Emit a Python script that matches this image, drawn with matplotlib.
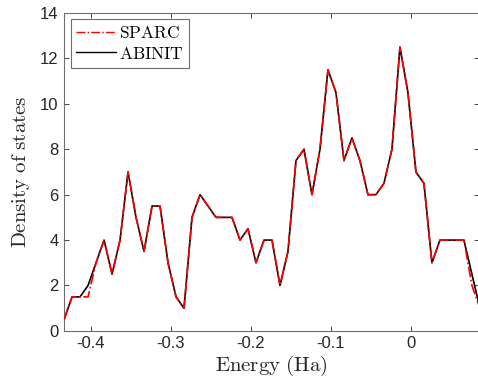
import matplotlib
matplotlib.use("Agg")
import matplotlib.pyplot as plt

# energy grid (Ha) and density of states
energy = [-0.4335, -0.4235, -0.4135, -0.4035, -0.3935, -0.3835, -0.3735, -0.3635,
          -0.3535, -0.3435, -0.3335, -0.3235, -0.3135, -0.3035, -0.2935, -0.2835,
          -0.2735, -0.2635, -0.2535, -0.2435, -0.2335, -0.2235, -0.2135, -0.2035,
          -0.1935, -0.1835, -0.1735, -0.1635, -0.1535, -0.1435, -0.1335, -0.1235,
          -0.1135, -0.1035, -0.0935, -0.0835, -0.0735, -0.0635, -0.0535, -0.0435,
          -0.0335, -0.0235, -0.0135, -0.0035, 0.0065, 0.0165, 0.0265, 0.0365,
          0.0465, 0.0565, 0.0665, 0.0765, 0.0865]

dos_abinit = [0.5, 1.5, 1.5, 2.0, 3.0, 4.0, 2.5, 4.0, 7.0, 5.0, 3.5, 5.5, 5.5, 3.0,
              1.5, 1.0, 5.0, 6.0, 5.5, 5.0, 5.0, 5.0, 4.0, 4.5, 3.0, 4.0, 4.0, 2.0,
              3.5, 7.5, 8.0, 6.0, 8.0, 11.5, 10.5, 7.5, 8.5, 7.5, 6.0, 6.0, 6.5, 8.0,
              12.5, 10.5, 7.0, 6.5, 3.0, 4.0, 4.0, 4.0, 4.0, 2.5, 1.0]

dos_sparc = [0.5, 1.5, 1.5, 1.5, 3.0, 4.0, 2.5, 4.0, 7.0, 5.0, 3.5, 5.5, 5.5, 3.0,
             1.5, 1.0, 5.0, 6.0, 5.5, 5.0, 5.0, 5.0, 4.0, 4.5, 3.0, 4.0, 4.0, 2.0,
             3.5, 7.5, 8.0, 6.0, 8.0, 11.5, 10.5, 7.5, 8.5, 7.5, 6.0, 6.0, 6.5, 8.0,
             12.5, 10.5, 7.0, 6.5, 3.0, 4.0, 4.0, 4.0, 4.0, 2.0, 1.0]

xticks = [-0.4, -0.3, -0.2, -0.1, 0.0]
xticklabels = ["-0.4", "-0.3", "-0.2", "-0.1", "0"]
yticks = [0, 2, 4, 6, 8, 10, 12, 14]

plt.rcParams['mathtext.fontset'] = 'cm'
plt.rcParams['axes.unicode_minus'] = False

fig = plt.figure(figsize=(4.78, 3.83), dpi=100)
ax = fig.add_axes([0.134, 0.136, 0.868, 0.830])

ax.plot(energy, dos_abinit, color='black', lw=1.2, zorder=2)
ax.plot(energy, dos_sparc, color='red', lw=1.2, ls='-.', zorder=3)

# legend handles in SPARC, ABINIT order
h1, = ax.plot([], [], color='red', lw=1.0, ls='-.')
h2, = ax.plot([], [], color='black', lw=1.0)
leg = ax.legend([h1, h2], [r'$\mathrm{SPARC}$', r'$\mathrm{ABINIT}$'],
                loc='upper left', bbox_to_anchor=(0.016, 0.982), fontsize=12.5,
                fancybox=False, framealpha=1, edgecolor='#6e6e6e',
                handlelength=2.3, handletextpad=0.2, borderpad=0.3,
                labelspacing=0.15, borderaxespad=0)
leg.get_frame().set_linewidth(0.8)

ax.set_xlim(-0.4335, 0.0853)
ax.set_ylim(0, 14)
ax.set_xticks(xticks)
ax.set_xticklabels(xticklabels)
ax.set_yticks(yticks)

for lab in ax.get_xticklabels() + ax.get_yticklabels():
    lab.set_family('Liberation Sans')
    lab.set_fontsize(12)
    lab.set_color('#262626')

ax.tick_params(direction='in', length=3.5, width=0.6, colors='#262626',
               top=True, right=True, pad=4)
for sp in ax.spines.values():
    sp.set_color('#6e6e6e')
    sp.set_linewidth(0.8)

ax.set_xlabel(r'$\mathrm{Energy\ (Ha)}$', fontsize=15, color='#262626', labelpad=2)
ax.set_ylabel(r'$\mathrm{Density\ of\ states}$', fontsize=15, color='#262626', labelpad=6)

fig.savefig('out.png', dpi=100)
